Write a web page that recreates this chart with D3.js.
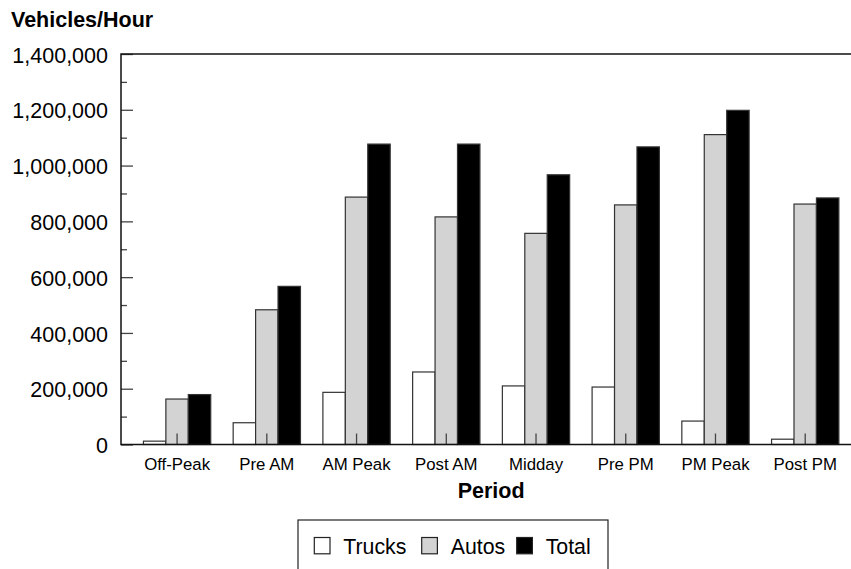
<!DOCTYPE html>
<html>
<head>
<meta charset="utf-8">
<script src="https://cdn.jsdelivr.net/npm/d3@7"></script>
<style>
  html, body { margin: 0; padding: 0; background: #fff; }
  svg { display: block; font-family: "Liberation Sans", Arial, sans-serif; }
</style>
</head>
<body>
<svg id="chart" width="851" height="569"></svg>
<script>
const categories = ["Off-Peak", "Pre AM", "AM Peak", "Post AM", "Midday", "Pre PM", "PM Peak", "Post PM"];
const seriesNames = ["Trucks", "Autos", "Total"];
const trucks = [12000, 78000, 187000, 260000, 210000, 206000, 84000, 19000];
const autos  = [163000, 483000, 887000, 816000, 757000, 859000, 1111000, 862000];
const total  = [179000, 567000, 1077000, 1077000, 967000, 1067000, 1198000, 884000];
const yTicks = [0, 200000, 400000, 600000, 800000, 1000000, 1200000, 1400000];
const yMinorTicks = [100000, 300000, 500000, 700000, 900000, 1100000, 1300000];
const yTitle = "Vehicles/Hour";
const xTitle = "Period";

const seriesValues = { Trucks: trucks, Autos: autos, Total: total };
const fills = { Trucks: "#ffffff", Autos: "#d3d3d3", Total: "#000000" };

const svg = d3.select("#chart");
const pLeft = 121, pRight = 861.3, pTop = 54, pBottom = 444.5;

const x0 = d3.scaleBand().domain(categories).range([pLeft, pRight]).paddingInner(0.25).paddingOuter(0.25);
const x1 = d3.scaleBand().domain(seriesNames).range([0, x0.bandwidth()]).padding(0);
const y = d3.scaleLinear().domain([0, 1400000]).range([pBottom, pTop]);

// bars
const groups = svg.append("g").selectAll("g").data(categories).join("g")
  .attr("transform", d => `translate(${x0(d)},0)`);
groups.selectAll("rect")
  .data((c, i) => seriesNames.map(s => ({ s, v: seriesValues[s][i] })))
  .join("rect")
  .attr("x", d => x1(d.s))
  .attr("y", d => y(d.v))
  .attr("width", x1.bandwidth())
  .attr("height", d => pBottom - y(d.v))
  .attr("fill", d => fills[d.s])
  .attr("stroke", "#333")
  .attr("stroke-width", 1.2);

// y axis minor ticks
svg.append("g").attr("transform", `translate(${pLeft},0)`)
  .call(d3.axisLeft(y).tickValues(yMinorTicks).tickSize(-6).tickFormat(""))
  .call(g => g.select(".domain").remove())
  .call(g => g.selectAll("line").attr("stroke", "#444").attr("stroke-width", 1.3));

// y axis major
svg.append("g").attr("transform", `translate(${pLeft},0)`)
  .call(d3.axisLeft(y).tickValues(yTicks).tickSize(-12).tickPadding(13).tickFormat(d3.format(",")))
  .call(g => g.select(".domain").remove())
  .call(g => g.selectAll("line").attr("stroke", "#444").attr("stroke-width", 1.3))
  .call(g => g.selectAll("text").attr("font-size", "21.5px").attr("fill", "#000")
    .attr("font-family", "Liberation Sans, Arial, sans-serif").attr("dy", "0.38em"));

// x axis
svg.append("g").attr("transform", `translate(0,${pBottom})`)
  .call(d3.axisBottom(x0).tickSize(-11).tickPadding(13.5))
  .call(g => g.select(".domain").remove())
  .call(g => g.selectAll("line").attr("stroke", "#444").attr("stroke-width", 1.3))
  .call(g => g.selectAll("text").attr("font-size", "16.8px").attr("fill", "#000")
    .attr("font-family", "Liberation Sans, Arial, sans-serif"));

// frame
svg.append("rect")
  .attr("x", pLeft).attr("y", pTop)
  .attr("width", pRight - pLeft).attr("height", pBottom - pTop)
  .attr("fill", "none").attr("stroke", "#111").attr("stroke-width", 1.5);

// titles
svg.append("text").attr("x", 11).attr("y", 26.8)
  .attr("font-size", "21.5px").attr("font-weight", "bold").text(yTitle);
svg.append("text").attr("x", (pLeft + pRight) / 2).attr("y", 497.5)
  .attr("text-anchor", "middle").attr("font-size", "21.5px").attr("font-weight", "bold").text(xTitle);

// legend
const legend = svg.append("g");
legend.append("rect").attr("x", 298).attr("y", 520).attr("width", 310).attr("height", 60)
  .attr("fill", "#fff").attr("stroke", "#222").attr("stroke-width", 1.2);
const legendX = [314.3, 421.7, 516.7];
const items = legend.selectAll("g.item").data(seriesNames).join("g").attr("class", "item")
  .attr("transform", (d, i) => `translate(${legendX[i]},537.5)`);
items.append("rect").attr("width", 15.7).attr("height", 16.3)
  .attr("fill", d => fills[d]).attr("stroke", "#222").attr("stroke-width", 1.2);
items.append("text").attr("x", 29).attr("y", 16.8).attr("font-size", "21.3px").text(d => d);
</script>
</body>
</html>
